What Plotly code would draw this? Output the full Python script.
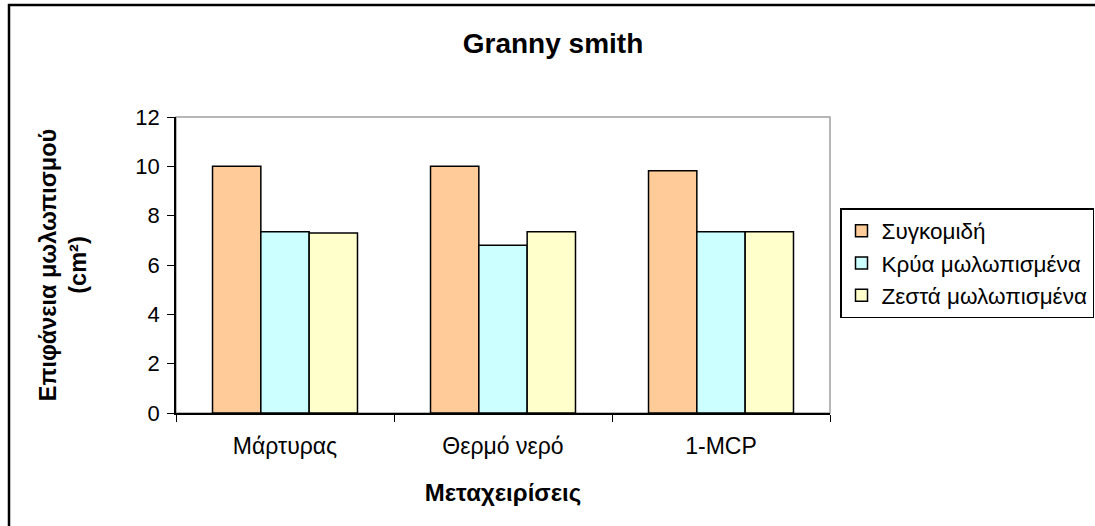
import plotly.graph_objects as go

# Treatments and bruise-area measurements (cm²)
treatments = ["Μάρτυρας", "Θερμό νερό", "1-MCP"]
harvest = [10.0, 10.0, 9.82]
cold_bruised = [7.35, 6.8, 7.35]
warm_bruised = [7.3, 7.35, 7.35]

series_names = ["Συγκομιδή", "Κρύα μωλωπισμένα", "Ζεστά μωλωπισμένα"]
series_colors = ["#FFCC99", "#CCFFFF", "#FFFFCC"]
series_values = [harvest, cold_bruised, warm_bruised]

FONT = "Liberation Sans, Arial, sans-serif"

fig = go.Figure()
for name, color, vals in zip(series_names, series_colors, series_values):
    fig.add_trace(go.Bar(
        x=treatments, y=vals, name=name,
        marker=dict(color=color, line=dict(color="black", width=1.5)),
    ))

W, H = 1095, 526
L, R, T, B = 176, 265, 117, 113
pw, ph = W - L - R, H - T - B

def px(x):
    return (x - L) / pw

def py(y):
    return (H - B - y) / ph

fig.update_layout(
    width=W, height=H,
    margin=dict(l=L, r=R, t=T, b=B, autoexpand=False),
    paper_bgcolor="white", plot_bgcolor="white",
    barmode="group", bargap=0.335, bargroupgap=0,
    font=dict(family=FONT, size=23, color="black"),
    title=dict(text="<b>Granny smith</b>", x=553 / W, xref="container",
               xanchor="center", y=1 - 43 / H, yanchor="middle",
               font=dict(size=28, family=FONT)),
    xaxis=dict(
        showline=True, linecolor="black", linewidth=1.5,
        ticks="outside", ticklen=7, tickcolor="black", tickwidth=1,
        tickson="boundaries", showgrid=False,
        ticklabelstandoff=12,
        title=dict(text="<b>Μεταχειρίσεις</b>", standoff=26,
                   font=dict(size=24)),
        tickfont=dict(size=23),
    ),
    yaxis=dict(
        range=[0, 12], dtick=2, showgrid=False,
        showline=True, linecolor="black", linewidth=1.5,
        ticks="outside", ticklen=7, tickcolor="black", tickwidth=1,
        ticklabelstandoff=3,
        title=dict(text="<b>Επιφάνεια μωλωπισμού<br>(cm²)</b>", standoff=42,
                   font=dict(size=23.5)),
        tickfont=dict(size=22),
        zeroline=False,
    ),
    legend=dict(
        x=px(840), y=py(208), xanchor="left", yanchor="top",
        bordercolor="black", borderwidth=1.5, bgcolor="white",
        font=dict(size=22.5), itemwidth=30,
    ),
    shapes=[
        # gray plot-area border (top/right)
        dict(type="rect", xref="paper", yref="paper", x0=0, y0=0, x1=1, y1=1,
             line=dict(color="#A0A0A0", width=1.5), layer="below"),
        # outer chart frame
        dict(type="rect", xref="paper", yref="paper",
             x0=px(9), y0=py(600), x1=px(1200), y1=py(5),
             line=dict(color="black", width=2.5)),
    ],
)

fig.write_html("out.html")
